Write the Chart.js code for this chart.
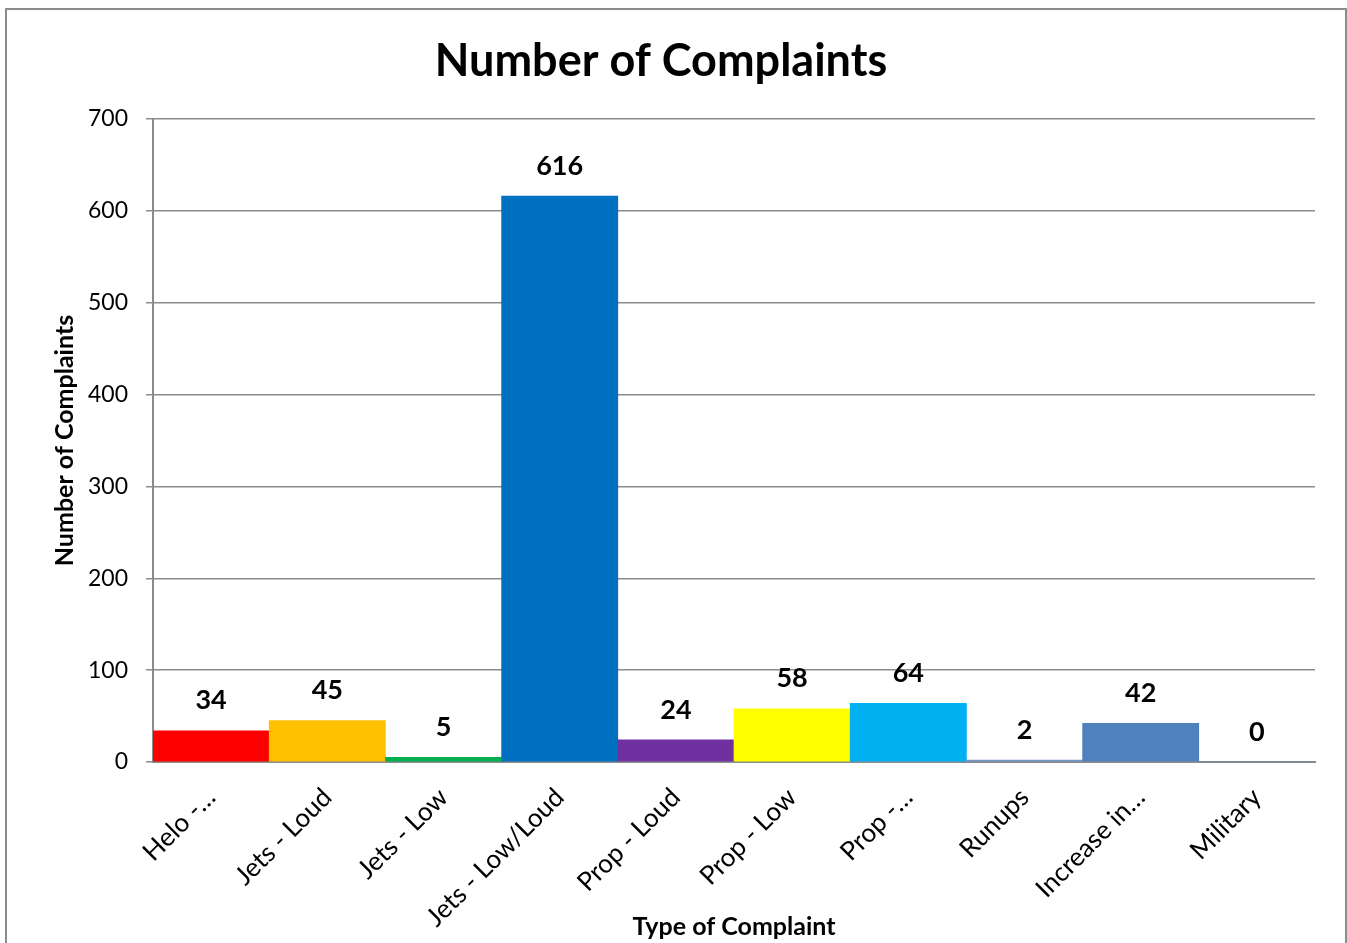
<!DOCTYPE html>
<html>
<head>
<meta charset="utf-8">
<script src="https://cdn.jsdelivr.net/npm/chart.js"></script>
<style>
body { margin: 0; background: #fff; overflow: hidden; }
#frame { position: absolute; left: 5px; top: 8px; width: 1338px; height: 950px; border: 2px solid #8c8c8c; }
#box { position: relative; width: 1338px; height: 933px; }
</style>
</head>
<body>
<div id="frame"><div id="box"><canvas id="myChart"></canvas></div></div>
<script>
// data
var categories = ['Helo -\u2026', 'Jets - Loud', 'Jets - Low', 'Jets - Low/Loud', 'Prop - Loud',
                  'Prop - Low', 'Prop -\u2026', 'Runups', 'Increase in\u2026', 'Military'];
var complaints = [34, 45, 5, 616, 24, 58, 64, 2, 42, 0];
var barColors = ['#ff0000', '#ffc000', '#00b050', '#0070c0', '#7030a0',
                 '#ffff00', '#00b0f0', '#7396c8', '#4f81bd', '#4f81bd'];
var yMin = 0, yMax = 700, yStep = 100;

var FONT = 'Lato, "Liberation Sans", sans-serif';
Chart.defaults.font.family = FONT;
Chart.defaults.color = '#000';

// draws the value above each bar
var valueLabels = {
    id: 'valueLabels',
    afterDatasetsDraw: function (chart) {
        var c = chart.ctx;
        var meta = chart.getDatasetMeta(0);
        c.save();
        c.font = 'bold 27px ' + FONT;
        c.fillStyle = '#000';
        c.textAlign = 'center';
        c.textBaseline = 'middle';
        meta.data.forEach(function (bar, i) {
            c.fillText(String(complaints[i]), bar.x, bar.y - 30);
        });
        c.restore();
    }
};

var ctx = document.getElementById('myChart').getContext('2d');
var myChart = new Chart(ctx, {
    type: 'bar',
    data: {
        labels: categories,
        datasets: [{
            label: 'Number of Complaints',
            data: complaints,
            backgroundColor: barColors,
            borderWidth: 0,
            barPercentage: 1,
            categoryPercentage: 1
        }]
    },
    options: {
        responsive: true,
        maintainAspectRatio: false,
        animation: false,
        layout: { padding: { top: 5, right: 30, left: 0, bottom: 0 } },
        plugins: {
            legend: { display: false },
            tooltip: { enabled: false },
            title: {
                display: true,
                text: 'Number of Complaints',
                font: { size: 45, weight: 'bold' },
                color: '#000',
                padding: { top: 19, bottom: 31 }
            }
        },
        scales: {
            x: {
                grid: { display: false, drawTicks: false },
                border: { display: true, color: '#8c8c8c', width: 2 },
                ticks: { font: { size: 26 }, color: '#000', minRotation: 45, maxRotation: 45, padding: 20, autoSkip: false },
                title: { display: true, text: 'Type of Complaint', font: { size: 25, weight: 'bold' }, color: '#000', padding: { top: 0, bottom: 1 } },
                afterFit: function (s) { s.height = 181; }
            },
            y: {
                min: yMin,
                max: yMax,
                ticks: { stepSize: yStep, font: { size: 23 }, color: '#000', padding: 18 },
                grid: { color: '#8c8c8c', lineWidth: 1.5, tickLength: 7 },
                border: { display: true, color: '#8c8c8c', width: 2 },
                title: { display: true, text: 'Number of Complaints', font: { size: 25, weight: 'bold' }, color: '#000', padding: { top: 43, bottom: 0 } },
                afterFit: function (s) { s.width = 146; }
            }
        }
    },
    plugins: [valueLabels]
});
</script>
</body>
</html>
